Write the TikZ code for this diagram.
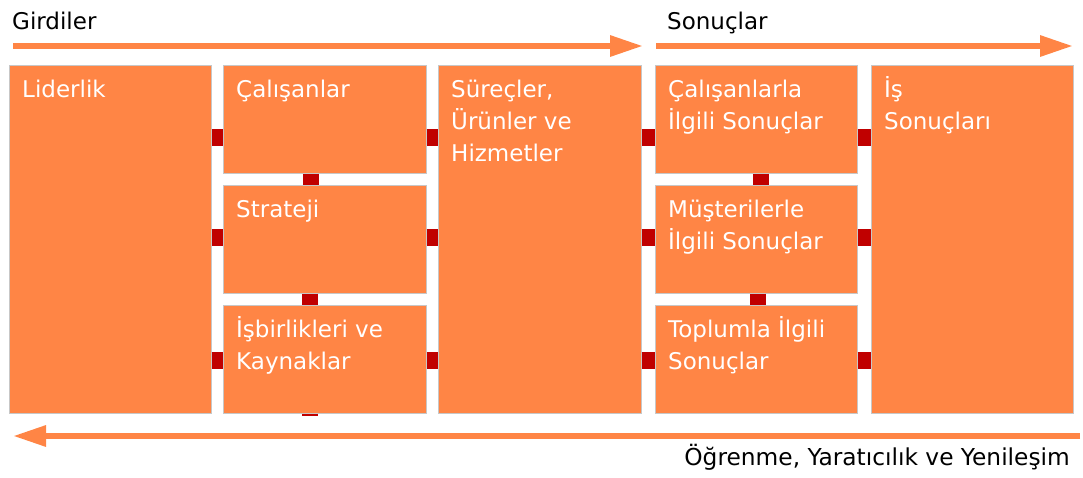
\documentclass[tikz,border=0pt]{standalone}
\usepackage{fontspec}
\setmainfont{DejaVu Sans}
\usetikzlibrary{arrows.meta,calc}
\definecolor{boxorange}{RGB}{255,133,69}
\definecolor{connred}{RGB}{192,0,0}
\newcommand{\bxstrut}{\rule{0pt}{24pt}}
\begin{document}
\begin{tikzpicture}[x=1pt,y=-1pt,
  box/.style={draw=black!22, line width=0.6pt, fill=boxorange, inner sep=0pt, anchor=north west},
  boxtext/.style={text=white, font={\fontsize{23}{32}\selectfont}, align=left, anchor=north west, inner sep=0pt},
  headtext/.style={text=black, font={\fontsize{23}{27}\selectfont}, inner sep=0pt},
  conn/.style={draw=connred, line width=17pt},
  vconn/.style={draw=connred, line width=16pt},
  flow/.style={draw=boxorange, line width=6pt, -{Triangle[length=33pt,width=20pt]}}]
\useasboundingbox (0,0) rectangle (1083,477);

% boxes
\node[box, minimum width=202pt, minimum height=348pt] (lid) at (9,65) {};
\node[box, minimum width=203pt, minimum height=108pt] (cal) at (223,65) {};
\node[box, minimum width=203pt, minimum height=108pt] (str) at (223,185) {};
\node[box, minimum width=203pt, minimum height=108pt] (isb) at (223,305) {};
\node[box, minimum width=203pt, minimum height=348pt] (sur) at (438,65) {};
\node[box, minimum width=202pt, minimum height=108pt] (cl) at (655,65) {};
\node[box, minimum width=202pt, minimum height=108pt] (mu) at (655,185) {};
\node[box, minimum width=202pt, minimum height=108pt] (to) at (655,305) {};
\node[box, minimum width=202pt, minimum height=348pt] (is) at (871,65) {};

% box texts (first baseline 32pt below box top)
\node[boxtext] (tlid) at ($(lid.north west)+(13,8)$) {\bxstrut Liderlik};
\node[boxtext] (tcal) at ($(cal.north west)+(13,8)$) {\bxstrut Çalışanlar};
\node[boxtext] (tstr) at ($(str.north west)+(13,8)$) {\bxstrut Strateji};
\node[boxtext] (tisb) at ($(isb.north west)+(13,8)$) {\bxstrut İşbirlikleri ve\\Kaynaklar};
\node[boxtext] (tsur) at ($(sur.north west)+(13,8)$) {\bxstrut Süreçler,\\Ürünler ve\\Hizmetler};
\node[boxtext] (tcl) at ($(cl.north west)+(13,8)$) {\bxstrut Çalışanlarla\\İlgili Sonuçlar};
\node[boxtext] (tmu) at ($(mu.north west)+(13,8)$) {\bxstrut Müşterilerle\\İlgili Sonuçlar};
\node[boxtext] (tto) at ($(to.north west)+(13,8)$) {\bxstrut Toplumla İlgili\\Sonuçlar};
\node[boxtext] (tis) at ($(is.north west)+(13,8)$) {\bxstrut İş\\Sonuçları};

% connector rows/columns
\coordinate (r1) at (0,137);
\coordinate (r2) at (0,237.5);
\coordinate (r3) at (0,360.5);
\coordinate (v1) at (311,0);
\coordinate (v2) at (310,0);
\coordinate (v3) at (761,0);
\coordinate (v4) at (758,0);
\coordinate (stub) at (310,416);

\draw[conn] (lid.east |- r1) -- (cal.west |- r1);
\draw[conn] (lid.east |- r2) -- (str.west |- r2);
\draw[conn] (lid.east |- r3) -- (isb.west |- r3);
\draw[conn] (cal.east |- r1) -- (sur.west |- r1);
\draw[conn] (str.east |- r2) -- (sur.west |- r2);
\draw[conn] (isb.east |- r3) -- (sur.west |- r3);
\draw[conn] (sur.east |- r1) -- (cl.west |- r1);
\draw[conn] (sur.east |- r2) -- (mu.west |- r2);
\draw[conn] (sur.east |- r3) -- (to.west |- r3);
\draw[conn] (cl.east |- r1) -- (is.west |- r1);
\draw[conn] (mu.east |- r2) -- (is.west |- r2);
\draw[conn] (to.east |- r3) -- (is.west |- r3);

\draw[vconn] (cal.south -| v1) -- (str.north -| v1);
\draw[vconn] (str.south -| v2) -- (isb.north -| v2);
\draw[vconn] (isb.south -| v2) -- (stub);
\draw[vconn] (cl.south -| v3) -- (mu.north -| v3);
\draw[vconn] (mu.south -| v4) -- (to.north -| v4);

% flow arrows
\coordinate (a1s) at (13,46);
\coordinate (a1e) at (643,46);
\coordinate (a2s) at (656,46);
\coordinate (a2e) at (1073,46);
\coordinate (a3s) at (1080,436);
\coordinate (a3e) at (13,436);
\draw[flow] (a1s) -- (a1e);
\draw[flow] (a2s) -- (a2e);
\draw[flow] (a3s) -- (a3e);

% headings
\node[headtext, anchor=base west] (gird) at (12,29) {Girdiler};
\node[headtext, anchor=base west] (sonuc) at (667,29) {Sonuçlar};
\node[headtext, anchor=base east, font={\fontsize{23.3}{27}\selectfont}] (ogr) at (1070,465) {Öğrenme, Yaratıcılık ve Yenileşim};
\end{tikzpicture}
\end{document}
